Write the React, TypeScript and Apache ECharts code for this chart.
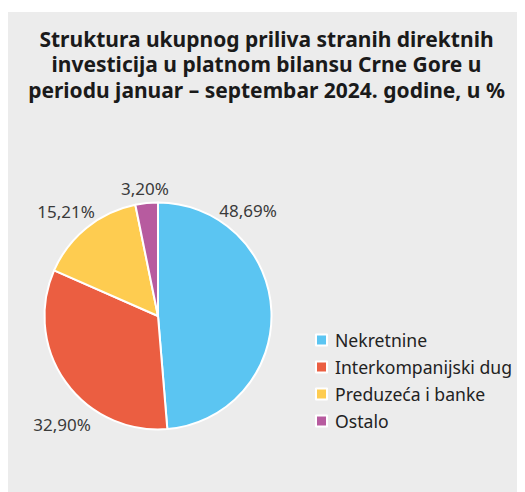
import React, { useEffect, useRef } from "react";
import * as echarts from "echarts";

const titleLines = [
  "Struktura ukupnog priliva stranih direktnih",
  "investicija u platnom bilansu Crne Gore u",
  "periodu januar – septembar 2024. godine, u %",
];
const categories = ["Nekretnine", "Interkompanijski dug", "Preduzeća i banke", "Ostalo"];
const values = [48.69, 32.9, 15.21, 3.2];
const colors = ["#5bc5f2", "#eb5e41", "#fecc50", "#b75b9f"];

const FONT = "'Noto Sans', 'Open Sans', sans-serif";
const CENTER = [150, 308];
// label anchor offsets from the pie centre (px), per slice
const labelOffsets = [
  [90, -106],
  [-96, 108],
  [-92, -105],
  [-13, -128],
];

export default function App() {
  const ref = useRef<HTMLDivElement>(null);
  useEffect(() => {
    if (!ref.current) return;
    const chart = echarts.init(ref.current, undefined, { renderer: "svg" });
    chart.setOption({
      animation: false,
      backgroundColor: "#ffffff",
      graphic: [
        { type: "rect", z: -10, shape: { x: 0, y: 4, width: 517, height: 109 }, style: { fill: "#ececec" } },
        { type: "rect", z: -10, shape: { x: 0, y: 113, width: 517, height: 371 }, style: { fill: "#ececec" } },
      ],
      title: {
        text: titleLines.join("\n"),
        left: "center",
        top: 13,
        padding: [5, 0, 5, 17],
        textStyle: { fontFamily: FONT, fontSize: 21, fontWeight: "bold", color: "#1a1a1a", lineHeight: 25.5 },
      },
      legend: {
        orient: "vertical",
        left: 307,
        top: 323,
        padding: 0,
        icon: "rect",
        itemWidth: 11,
        itemHeight: 11,
        itemGap: 9,
        data: categories,
        textStyle: { fontFamily: FONT, fontSize: 17.6, color: "#222", lineHeight: 18, padding: [0, 0, 0, 3] },
      },
      series: [
        {
          type: "pie",
          center: CENTER,
          radius: 113.5,
          startAngle: 90,
          clockwise: true,
          itemStyle: { borderColor: "#ffffff", borderWidth: 2 },
          label: {
            show: true,
            position: "inside",
            formatter: (p: any) => p.value.toFixed(2).replace(".", ",") + "%",
            fontFamily: FONT,
            fontSize: 17,
            color: "#3a3a3a",
            textBorderWidth: 0,
          },
          labelLine: { show: false },
          labelLayout: (p: any) => {
            const o = labelOffsets[p.dataIndex];
            return {
              x: CENTER[0] + o[0],
              y: CENTER[1] + o[1],
              align: "center",
              verticalAlign: "middle",
              hideOverlap: false,
            };
          },
          emphasis: { disabled: true },
          data: categories.map((c, i) => ({ name: c, value: values[i], itemStyle: { color: colors[i] } })),
        },
      ],
    });
    return () => chart.dispose();
  }, []);
  return <div ref={ref} style={{ width: 517, height: 484 }} />;
}
